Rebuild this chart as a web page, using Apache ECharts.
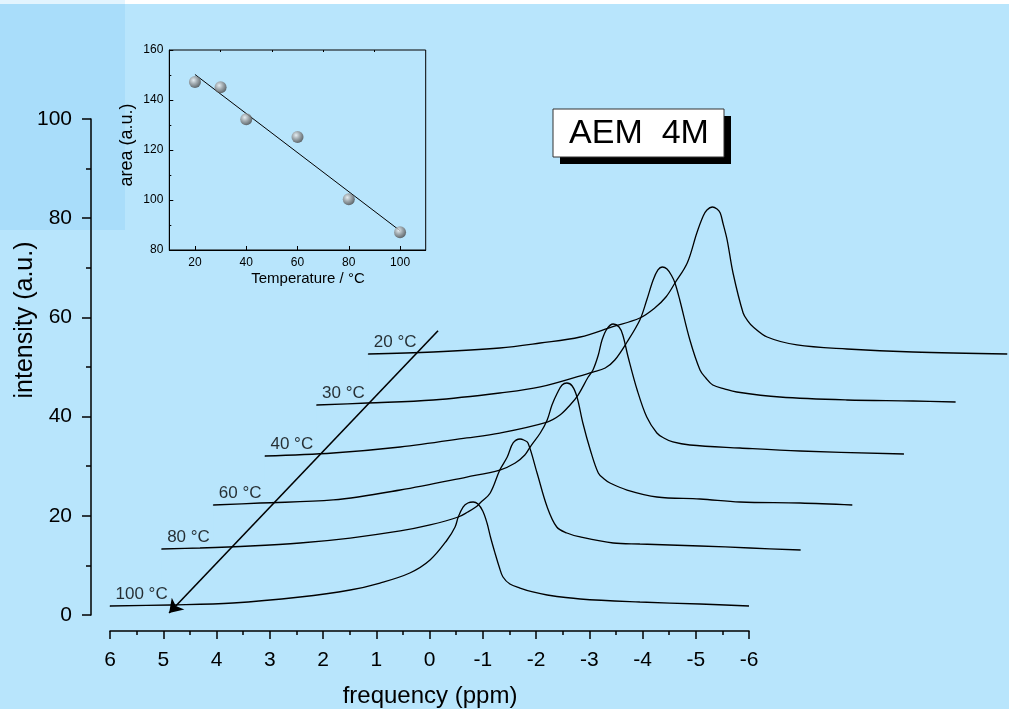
<!DOCTYPE html>
<html>
<head>
<meta charset="utf-8">
<title>AEM 4M spectra</title>
<script src="https://cdn.jsdelivr.net/npm/echarts@6/dist/echarts.min.js"></script>
<style>
  html, body { margin: 0; padding: 0; background: #ffffff; }
  #wrap { position: relative; width: 1009px; height: 709px; overflow: hidden; }
  #bg { position: absolute; left: 0; top: 4px; width: 1009px; height: 705px; background: #B8E5FC; }
  #tlA { position: absolute; left: 0; top: 0; width: 125px; height: 4px; background: #E3F4FE; }
  #tlB { position: absolute; left: 0; top: 4px; width: 125px; height: 226px; background: #A9DDFA; }
  #chart { position: absolute; left: 0; top: 0; width: 1009px; height: 709px; }
</style>
</head>
<body>
<div id="wrap">
  <div id="bg"></div>
  <div id="tlA"></div>
  <div id="tlB"></div>
  <div id="chart"></div>
</div>
<script>
// ---- spectra: [chemical shift (ppm), intensity (a.u.)], back to front ----
const temps = ['20 °C', '30 °C', '40 °C', '60 °C', '80 °C', '100 °C'];

const spec20 = [[6.00,2.62],[4.78,3.02],[3.53,3.83],[2.77,4.84],[2.02,6.05],[1.42,8.10],[0.90,9.88],[0.62,11.90],[0.41,14.11],[0.24,16.94],[0.01,20.97],[-0.17,27.02],[-0.29,30.44],[-0.36,31.65],[-0.46,32.26],[-0.55,31.85],[-0.61,31.05],[-0.66,29.03],[-0.74,25.60],[-0.85,18.95],[-1.04,10.89],[-1.13,9.27],[-1.23,8.06],[-1.49,6.05],[-2.05,4.44],[-2.99,3.63],[-4.23,3.02],[-6.00,2.62]];
const spec30 = [[6.00,2.34],[5.05,2.74],[3.81,3.35],[2.56,4.76],[1.80,5.97],[0.81,8.99],[0.58,9.80],[0.40,11.41],[0.17,15.04],[-0.07,19.48],[-0.20,23.51],[-0.32,27.54],[-0.41,29.56],[-0.49,30.16],[-0.58,29.76],[-0.67,28.35],[-0.73,26.94],[-0.82,23.51],[-1.01,15.44],[-1.20,9.40],[-1.31,7.78],[-1.44,6.37],[-1.67,5.56],[-1.89,4.96],[-2.70,3.95],[-3.96,3.35],[-5.20,3.15],[-6.00,2.94]];
const spec40 = [[6.00,2.06],[4.72,2.66],[3.46,3.87],[2.21,5.69],[1.59,6.69],[0.70,8.91],[0.46,10.32],[0.27,12.34],[0.12,14.35],[-0.07,17.98],[-0.16,19.40],[-0.26,22.42],[-0.33,25.44],[-0.42,27.66],[-0.54,28.67],[-0.65,28.06],[-0.72,26.45],[-0.82,22.02],[-0.99,15.36],[-1.17,9.92],[-1.36,6.69],[-1.49,5.69],[-1.66,4.88],[-1.98,4.27],[-2.92,3.67],[-4.05,3.06],[-6.00,2.46]];
const spec60 = [[6.00,2.18],[5.12,2.58],[3.75,3.19],[2.49,5.20],[1.24,7.82],[0.62,9.23],[0.33,10.65],[0.15,12.26],[0.05,13.87],[-0.14,16.69],[-0.27,19.31],[-0.36,22.34],[-0.46,24.76],[-0.55,26.37],[-0.64,26.77],[-0.74,26.17],[-0.83,23.95],[-0.94,18.71],[-1.08,13.27],[-1.23,8.63],[-1.34,7.42],[-1.45,6.61],[-1.77,5.20],[-2.33,3.79],[-3.14,3.39],[-3.89,2.78],[-5.02,2.58],[-6.00,2.18]];
const spec80 = [[6.00,3.31],[5.28,3.51],[4.34,3.91],[3.40,4.52],[2.46,5.52],[1.52,6.94],[0.96,8.15],[0.43,9.76],[0.25,10.77],[0.10,11.77],[0.02,12.58],[-0.17,14.60],[-0.35,19.23],[-0.49,21.85],[-0.60,24.68],[-0.73,25.48],[-0.80,25.28],[-0.88,24.68],[-1.05,18.63],[-1.24,11.77],[-1.42,7.74],[-1.61,6.53],[-1.86,5.73],[-2.48,4.52],[-2.98,4.31],[-4.11,3.91],[-5.05,3.51],[-6.00,3.10]];
const spec100 = [[6.00,1.81],[4.87,2.02],[3.69,2.42],[2.43,3.63],[1.49,5.04],[0.93,6.45],[0.37,8.47],[-0.01,11.09],[-0.33,15.12],[-0.48,17.74],[-0.54,19.76],[-0.63,21.77],[-0.72,22.58],[-0.82,22.78],[-0.91,22.38],[-1.00,20.97],[-1.08,18.55],[-1.15,15.52],[-1.23,12.50],[-1.31,9.68],[-1.38,7.66],[-1.51,6.25],[-1.70,5.44],[-1.94,4.64],[-2.21,4.03],[-2.83,3.23],[-3.95,2.62],[-5.08,2.22],[-6.00,1.81]];

const spectra = [spec20, spec30, spec40, spec60, spec80, spec100];
// waterfall step of each trace (0 = front trace)
const stackStep = [5, 4, 3, 2, 1, 0];
const X_STEP = 0.97;   // ppm shift per step
const Y_STEP = 10;     // intensity shift per step

// temperature arrow, in waterfall coordinates [ppm, intensity]
const arrowStart = [-0.16, 57.3];
const arrowEnd = [4.89, 0.4];

// ---- inset: integrated area vs temperature ----
const insetTemp = [20, 30, 40, 60, 80, 100];
const insetArea = [147.2, 145.1, 132.3, 125.2, 100.3, 87.1];

const BG = '#B8E5FC';
const FONT = '"Liberation Sans", Arial, Helvetica, sans-serif';

// frame geometry: the visible ppm axis spans 6 .. -6 over 639 px;
// the waterfall frame keeps the same scale and runs to the right edge
const AXIS_LEFT = 110, AXIS_WIDTH = 639, FRAME_WIDTH = 899;
const frameMin = 6 - FRAME_WIDTH * 12 / AXIS_WIDTH;

function place(step, pt) {
  return [pt[0] - X_STEP * step, pt[1] + Y_STEP * step];
}

// least-squares line through the inset points
function linFit(xs, ys) {
  const n = xs.length;
  const mx = xs.reduce((a, b) => a + b, 0) / n;
  const my = ys.reduce((a, b) => a + b, 0) / n;
  let sxy = 0, sxx = 0;
  for (let k = 0; k < n; k++) { sxy += (xs[k] - mx) * (ys[k] - my); sxx += (xs[k] - mx) ** 2; }
  const b = sxy / sxx, a = my - b * mx;
  return [[xs[0], a + b * xs[0]], [xs[n - 1], a + b * xs[n - 1]]];
}

const chart = echarts.init(document.getElementById('chart'), null, { renderer: 'canvas' });

const traceSeries = spectra.map((spec, k) => ({
  type: 'line',
  xAxisIndex: 1, yAxisIndex: 1,
  data: spec.map(p => place(stackStep[k], p)),
  showSymbol: false,
  smooth: 0.35,
  lineStyle: { color: '#000', width: 1.3 },
  areaStyle: { color: BG, opacity: 1, origin: 'start' },
  silent: true,
  z: 2
}));

const labelSeries = {
  type: 'scatter',
  xAxisIndex: 1, yAxisIndex: 1,
  symbolSize: 1,
  itemStyle: { color: '#000' },
  data: spectra.map((spec, k) => ({ name: temps[k], value: place(stackStep[k], spec[0]) })),
  label: {
    show: true, formatter: '{b}', position: [6, -20],
    fontSize: 17, lineHeight: 17, color: '#000', fontFamily: FONT
  },
  silent: true,
  z: 5
};

const arrowSeries = {
  type: 'lines',
  coordinateSystem: 'cartesian2d',
  xAxisIndex: 1, yAxisIndex: 1,
  symbol: ['none', 'arrow'],
  symbolSize: [1, 13],
  lineStyle: { color: '#000', width: 1.6, opacity: 1, curveness: 0 },
  data: [{ coords: [arrowStart, arrowEnd] }],
  silent: true,
  z: 10
};

const fit = linFit(insetTemp, insetArea);

const insetFit = {
  type: 'line',
  xAxisIndex: 2, yAxisIndex: 2,
  data: fit,
  showSymbol: false,
  lineStyle: { color: '#000', width: 1 },
  silent: true,
  z: 6
};

const insetPoints = {
  type: 'scatter',
  xAxisIndex: 2, yAxisIndex: 2,
  data: insetTemp.map((t, k) => [t, insetArea[k]]),
  symbol: 'circle',
  symbolSize: 12,
  itemStyle: {
    color: {
      type: 'radial', x: 0.38, y: 0.35, r: 0.7,
      colorStops: [
        { offset: 0, color: '#eeeeee' },
        { offset: 0.45, color: '#9a9a9a' },
        { offset: 1, color: '#404040' }
      ]
    }
  },
  silent: true,
  z: 7
};

chart.setOption({
  animation: false,
  backgroundColor: 'transparent',
  textStyle: { fontFamily: FONT },
  grid: [
    { left: AXIS_LEFT, top: 119, width: AXIS_WIDTH, height: 496 },
    { left: AXIS_LEFT, top: 119, width: FRAME_WIDTH, height: 496 },
    { left: 169.3, top: 50, width: 256.4, height: 200, show: true,
      borderColor: '#000', borderWidth: 1, backgroundColor: 'transparent' }
  ],
  xAxis: [
    { gridIndex: 0, type: 'value', min: -6, max: 6, interval: 1, inverse: true, offset: 16,
      axisLine: { show: true, onZero: false, lineStyle: { color: '#000', width: 1.5 } },
      axisTick: { show: true, length: 8, lineStyle: { color: '#000', width: 1.5 } },
      minorTick: { show: true, splitNumber: 2, length: 4, lineStyle: { color: '#000', width: 1.5 } },
      axisLabel: { fontSize: 21, color: '#000', margin: 19, fontFamily: FONT },
      splitLine: { show: false } },
    { gridIndex: 1, type: 'value', min: frameMin, max: 6, inverse: true, show: false },
    { gridIndex: 2, type: 'value', min: 10, max: 110,
      axisLine: { onZero: false, lineStyle: { color: '#000', width: 1 } },
      axisTick: { show: true, inside: true, length: 4, customValues: [20, 40, 60, 80, 100],
        lineStyle: { color: '#000', width: 1 } },
      axisLabel: { fontSize: 12, color: '#000', margin: 7, fontFamily: FONT,
        customValues: [20, 40, 60, 80, 100] },
      splitLine: { show: false } },
    { gridIndex: 2, type: 'value', min: 10, max: 110,
      axisLine: { show: false, onZero: false },
      axisTick: { show: true, inside: true, length: 2, customValues: [30, 50, 70, 90],
        lineStyle: { color: '#000', width: 1 } },
      axisLabel: { show: false },
      splitLine: { show: false } }
  ],
  yAxis: [
    { gridIndex: 0, type: 'value', min: 0, max: 100, interval: 20, offset: 19,
      axisLine: { show: true, onZero: false, lineStyle: { color: '#000', width: 1.5 } },
      axisTick: { show: true, length: 9, lineStyle: { color: '#000', width: 1.5 } },
      minorTick: { show: true, splitNumber: 2, length: 5, lineStyle: { color: '#000', width: 1.5 } },
      axisLabel: { fontSize: 21, color: '#000', margin: 19, fontFamily: FONT },
      splitLine: { show: false } },
    { gridIndex: 1, type: 'value', min: 0, max: 100, show: false },
    { gridIndex: 2, type: 'value', min: 80, max: 160, interval: 20,
      axisLine: { show: true, onZero: false, lineStyle: { color: '#000', width: 1 } },
      axisTick: { show: true, inside: true, length: 4, lineStyle: { color: '#000', width: 1 } },
      minorTick: { show: true, splitNumber: 2, length: 2, lineStyle: { color: '#000', width: 1 } },
      axisLabel: { fontSize: 12, color: '#000', margin: 6, fontFamily: FONT },
      splitLine: { show: false } }
  ],
  graphic: [
    { type: 'text', x: 25, y: 320, rotation: Math.PI / 2,
      style: { text: 'intensity (a.u.)', font: '25px ' + FONT, fill: '#000',
        align: 'center', verticalAlign: 'middle' } },
    { type: 'text', x: 430, y: 696,
      style: { text: 'frequency (ppm)', font: '24px ' + FONT, fill: '#000',
        align: 'center', verticalAlign: 'middle' } },
    { type: 'text', x: 127, y: 145, rotation: Math.PI / 2,
      style: { text: 'area (a.u.)', font: '18px ' + FONT, fill: '#000',
        align: 'center', verticalAlign: 'middle' } },
    { type: 'text', x: 308, y: 279,
      style: { text: 'Temperature / °C', font: '15px ' + FONT, fill: '#000',
        align: 'center', verticalAlign: 'middle' } },
    { type: 'group', children: [
      { type: 'rect', shape: { x: 560, y: 116, width: 171, height: 48 }, style: { fill: '#000' } },
      { type: 'rect', shape: { x: 553, y: 109, width: 171, height: 48 },
        style: { fill: '#fff', stroke: '#333', lineWidth: 1 } },
      { type: 'text', x: 639, y: 134,
        style: { text: 'AEM  4M', font: '34px ' + FONT, fill: '#000',
          align: 'center', verticalAlign: 'middle' } }
    ] }
  ],
  series: [...traceSeries, labelSeries, arrowSeries, insetFit, insetPoints]
});
</script>
</body>
</html>
